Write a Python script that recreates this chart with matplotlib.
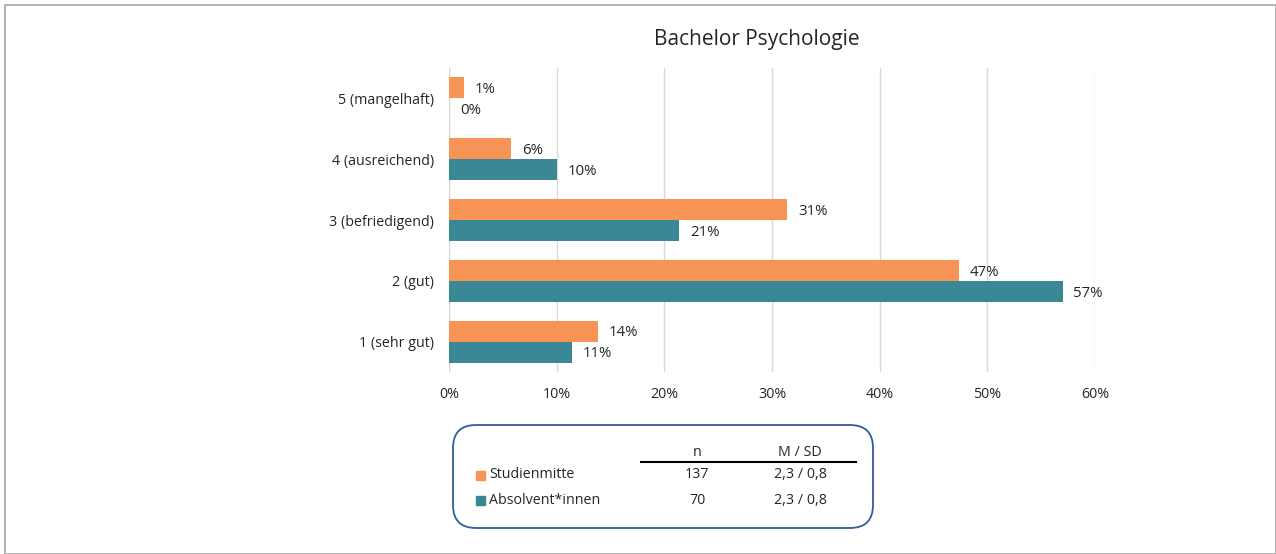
import matplotlib.pyplot as plt
from matplotlib.patches import FancyBboxPatch, Rectangle

plt.rcParams['font.family'] = ['Open Sans', 'DejaVu Sans']

# ==============================
# Data
# ==============================
categories = ['1 (sehr gut)', '2 (gut)', '3 (befriedigend)', '4 (ausreichend)', '5 (mangelhaft)']
studienmitte = [13.8, 47.4, 31.4, 5.8, 1.4]
absolventen = [11.4, 57.0, 21.4, 10.0, 0.0]
series_names = ['Studienmitte', 'Absolvent*innen']
n_values = ['137', '70']
m_sd = ['2,3 / 0,8', '2,3 / 0,8']
x_ticks = [0, 10, 20, 30, 40, 50, 60]

ORANGE = '#F79455'
TEAL = '#3A8896'
TXT = '#262626'
FS = 10.3

fig = plt.figure(figsize=(12.76, 5.54), dpi=100)

# outer frame
fig.patches.append(Rectangle((5 / 1276, 0), 1 - 5 / 1276, 1 - 5 / 554,
                             transform=fig.transFigure, fill=False,
                             edgecolor='#A6A6A6', linewidth=1.2))

ax = fig.add_axes([449 / 1276, 1 - 372 / 554, (1095 - 449) / 1276, (372 - 68) / 554])

h = 0.345
y = list(range(len(categories)))
ax.barh([p + h / 2 for p in y], studienmitte, height=h, color=ORANGE, zorder=3)
ax.barh([p - h / 2 for p in y], absolventen, height=h, color=TEAL, zorder=3)

for p, v in zip(y, studienmitte):
    ax.text(v + 1.0, p + h / 2 - 0.03, f'{round(v)}%', va='center', ha='left', fontsize=FS + 0.5, color=TXT)
for p, v in zip(y, absolventen):
    ax.text(v + 1.0, p - h / 2 - 0.03, f'{round(v)}%', va='center', ha='left', fontsize=FS + 0.5, color=TXT)

ax.set_xlim(0, 60)
ax.set_ylim(-0.5, 4.5)
ax.set_xticks(x_ticks)
ax.set_xticklabels([f'{t}%' for t in x_ticks], fontsize=FS, color=TXT)
ax.set_yticks(y)
ax.set_yticklabels(categories, fontsize=FS, color=TXT)
ax.tick_params(axis='both', length=0, pad=11)
ax.grid(axis='x', color='#D9D9D9', linewidth=1, zorder=0)
for s in ax.spines.values():
    s.set_visible(False)
ax.axvline(0, color='#D9D9D9', linewidth=1, zorder=1)

fig.text(757 / 1276, 1 - 39 / 554, 'Bachelor Psychologie', ha='center', va='center',
         fontsize=15, color=TXT)

# ==============================
# Legend / summary table box
# ==============================
box = FancyBboxPatch((453 / 1276, 1 - 528 / 554), (873 - 453) / 1276, (528 - 425) / 554,
                     boxstyle='round,pad=0,rounding_size=0.018', transform=fig.transFigure,
                     fill=False, edgecolor='#2F5D9B', linewidth=1.3,
                     mutation_aspect=1276 / 554)
fig.patches.append(box)

fig.text(697 / 1276, 1 - 452 / 554, 'n', ha='center', va='center', fontsize=FS, color=TXT)
fig.text(800 / 1276, 1 - 452 / 554, 'M / SD', ha='center', va='center', fontsize=FS, color=TXT)
fig.lines.append(plt.Line2D([641 / 1276, 856 / 1276], [1 - 462 / 554, 1 - 462 / 554],
                            transform=fig.transFigure, color='black', linewidth=1.5))

for i, (name, col) in enumerate(zip(series_names, [ORANGE, TEAL])):
    yy = 1 - (475 + 25 * i) / 554
    fig.patches.append(Rectangle((476 / 1276, yy - 4.5 / 554), 9 / 1276, 9 / 554,
                                 transform=fig.transFigure, color=col))
    fig.text(489 / 1276, yy, name, ha='left', va='center', fontsize=FS, color=TXT)
    fig.text(697 / 1276, yy, n_values[i], ha='center', va='center', fontsize=FS, color=TXT)
    fig.text(800 / 1276, yy, m_sd[i], ha='center', va='center', fontsize=FS, color=TXT)

fig.savefig('out.png', dpi=100)
